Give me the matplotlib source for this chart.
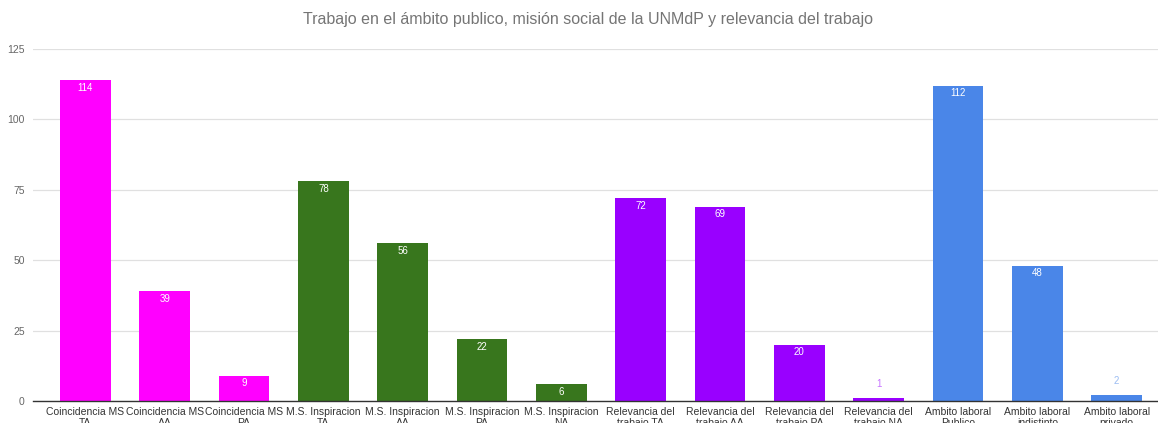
import matplotlib.pyplot as plt
from matplotlib.colors import to_rgb

plt.rcParams['font.family'] = ['Liberation Sans', 'DejaVu Sans']

# datos
categorias = [
    'Coincidencia MS\nTA', 'Coincidencia MS\nAA', 'Coincidencia MS\nPA',
    'M.S. Inspiracion\nTA', 'M.S. Inspiracion\nAA', 'M.S. Inspiracion\nPA', 'M.S. Inspiracion\nNA',
    'Relevancia del\ntrabajo TA', 'Relevancia del\ntrabajo AA', 'Relevancia del\ntrabajo PA', 'Relevancia del\ntrabajo NA',
    'Ambito laboral\nPublico', 'Ambito laboral\nindistinto', 'Ambito laboral\nprivado',
]
valores = [114, 39, 9, 78, 56, 22, 6, 72, 69, 20, 1, 112, 48, 2]
grupos = [0, 0, 0, 1, 1, 1, 1, 2, 2, 2, 2, 3, 3, 3]
colores_grupo = ['#ff00ff', '#38761d', '#9900ff', '#4a86e8']
yticks = [0, 25, 50, 75, 100, 125]

fig = plt.figure(figsize=(11.58, 4.23), dpi=100)
ax = fig.add_axes([0.0285, 0.052, 0.9715, 0.832])

x = range(len(valores))
colores = [colores_grupo[g] for g in grupos]
bars = ax.bar(x, valores, width=0.64, color=colores, zorder=3)

ax.set_xlim(-0.66, 13.52)
ax.set_ylim(0, 125)
ax.set_yticks(yticks)
ax.set_yticklabels([str(v) for v in yticks], fontsize=7.5, color='#666666')
ax.set_xticks(list(x))
ax.set_xticklabels(categorias, fontsize=7.5, color='#333333', linespacing=1.15)
ax.tick_params(axis='both', length=0)
ax.tick_params(axis='x', pad=4.5)
ax.tick_params(axis='y', pad=6)

ax.grid(axis='y', color='#e0e0e0', lw=0.9, zorder=0)
for s in ['top', 'right', 'left']:
    ax.spines[s].set_visible(False)
ax.spines['bottom'].set_color('#333333')
ax.spines['bottom'].set_linewidth(1.0)
ax.spines['bottom'].set_zorder(4)

# etiquetas de valor
for b, v, c in zip(bars, valores, colores):
    cx = b.get_x() + b.get_width() / 2
    if v >= 5:
        ax.annotate(str(v), (cx, v), xytext=(0, -5.5), textcoords='offset points',
                    ha='center', va='center', fontsize=7, color='white', zorder=5)
    else:
        r, g, bb = to_rgb(c)
        claro = (r + (1 - r) * 0.45, g + (1 - g) * 0.45, bb + (1 - bb) * 0.45)
        ax.annotate(str(v), (cx, v), xytext=(0, 10), textcoords='offset points',
                    ha='center', va='center', fontsize=7, color=claro, zorder=5)

fig.text(0.508, 0.955, 'Trabajo en el ámbito publico, misión social de la UNMdP y relevancia del trabajo',
         ha='center', va='center', fontsize=11.5, color='#757575')

fig.savefig('out.png', dpi=100)
